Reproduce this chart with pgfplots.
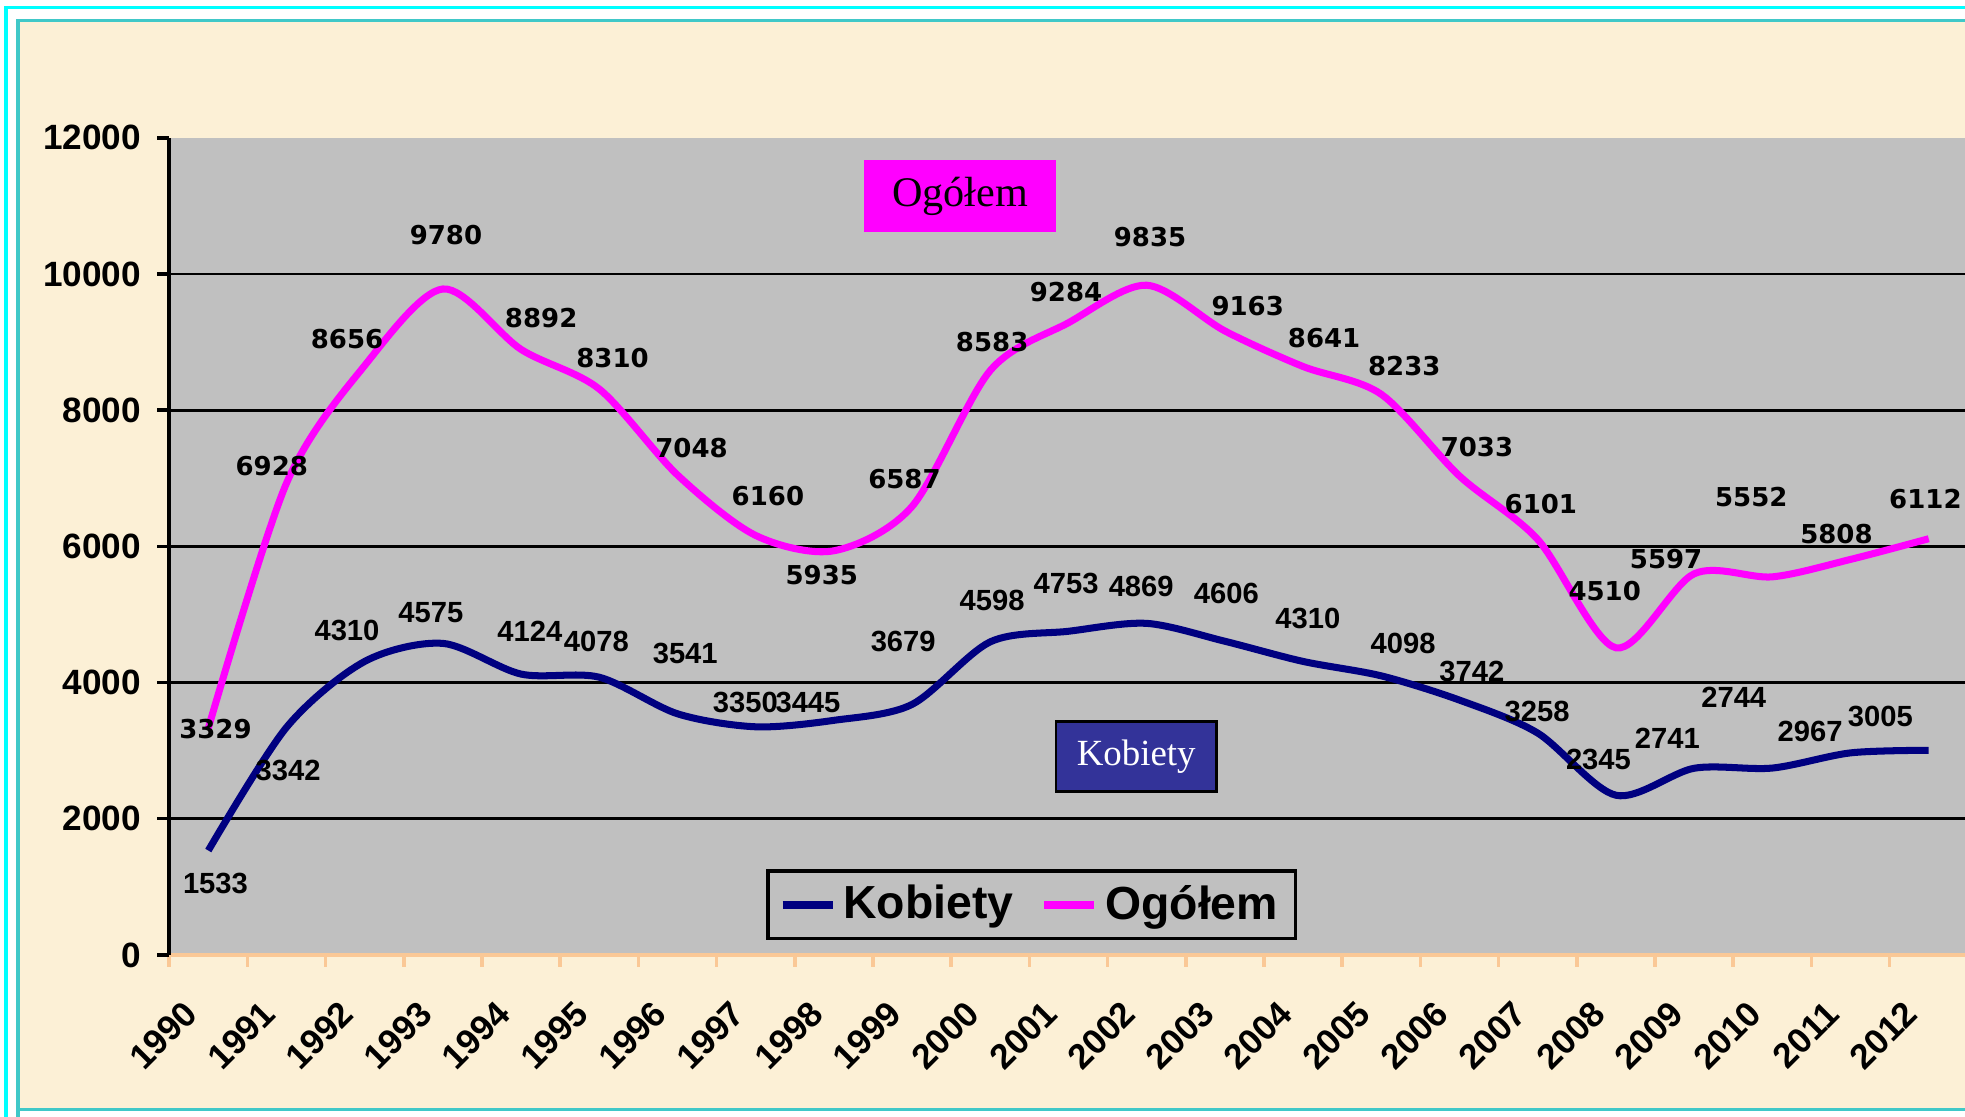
\documentclass[border=0pt]{standalone}
\usepackage{pgfplots}
\pgfplotsset{compat=1.18}
\usepackage{fontspec}
\setmainfont{Liberation Sans}
\newfontfamily\verd{DejaVu Sans}
\newfontfamily\tnr{Liberation Serif}
\definecolor{beige}{RGB}{252,240,214}
\definecolor{plotgrey}{RGB}{192,192,192}
\definecolor{mag}{RGB}{255,0,255}
\definecolor{navyb}{RGB}{0,0,128}
\definecolor{peach}{RGB}{250,200,150}
\definecolor{boxblue}{RGB}{51,51,153}
\definecolor{cyanb}{RGB}{0,255,255}
\definecolor{tealb}{RGB}{64,200,200}
\newcommand\olab{\verd\bfseries\fontsize{7.4}{8}\selectfont}
\newcommand\klab{\bfseries\fontsize{8.3}{9}\selectfont}
\begin{document}
\begin{tikzpicture}
% background and frame
\fill[white] (0,0) rectangle (19.65,11.166);
\fill[beige] (0.18,0.07) rectangle (19.8,10.96);
\draw[cyanb, line width=1pt] (0.06,-0.2) -- (0.06,11.09) -- (19.8,11.09);
\draw[tealb, line width=1pt] (0.18,-0.2) |- (19.8,10.96);
\draw[tealb, line width=1pt] (0.18,0.07) -- (19.8,0.07);
\begin{axis}[
  at={(1.692cm,1.617cm)}, anchor=south west, scale only axis,
  width=17.986cm, height=8.171cm,
  xmin=-0.5, xmax=22.5, ymin=0, ymax=12000,
  axis background/.style={fill=plotgrey},
  axis lines*=left, axis line style={-},
  x axis line style={draw=peach, line width=1.2pt},
  y axis line style={draw=black, line width=1pt},
  tick align=outside,
  xtick={0,...,22},
  xticklabels={1990,1991,1992,1993,1994,1995,1996,1997,1998,1999,2000,2001,2002,2003,2004,2005,2006,2007,2008,2009,2010,2011,2012},
  major x tick style={draw=none},
  minor xtick={-0.5,0.5,...,22.5},
  minor x tick style={draw=peach, line width=1pt},
  minor tick length=0.12cm,
  ytick={0,2000,...,12000},
  scaled y ticks=false,
  major tick length=0.12cm,
  major y tick style={draw=black, line width=1pt},
  /pgf/number format/assume math mode=true,
  /pgf/number format/set thousands separator={},
  yticklabel style={font=\bfseries\fontsize{10}{11}\selectfont, xshift=-0.04cm},
  xticklabel style={font=\bfseries\fontsize{10}{11}\selectfont, rotate=45, anchor=north east, inner sep=0pt, xshift=-0.405cm, yshift=-0.033cm},
  legend style={at={(0.332,0.018)}, anchor=south west, draw=black, line width=1pt, fill=plotgrey,
    font=\bfseries\fontsize{13.2}{14}\selectfont, legend columns=2,
    inner xsep=3pt, inner ysep=2pt,
    /tikz/every even column/.append style={column sep=0.2cm}},
  legend image code/.code={\draw[#1, line width=2.2pt] (0cm,0cm) -- (0.5cm,0cm);},
  clip=false,
]
\pgfplotsinvokeforeach{2000,4000,6000,8000,10000}{
  \draw[black, line width=0.8pt] (axis cs:-0.5,#1) -- (axis cs:22.5,#1);
}
\addplot[navyb, line width=2pt, smooth] coordinates {
(0,1533) (1,3342) (2,4310) (3,4575) (4,4124) (5,4078) (6,3541) (7,3350) (8,3445) (9,3679) (10,4598) (11,4753) (12,4869) (13,4606) (14,4310) (15,4098) (16,3742) (17,3258) (18,2345) (19,2741) (20,2744) (21,2967) (22,3005)};
\addlegendentry{Kobiety}
\addplot[mag, line width=2pt, smooth] coordinates {
(0,3329) (1,6928) (2,8656) (3,9780) (4,8892) (5,8310) (6,7048) (7,6160) (8,5935) (9,6587) (10,8583) (11,9284) (12,9835) (13,9163) (14,8641) (15,8233) (16,7033) (17,6101) (18,4510) (19,5597) (20,5552) (21,5808) (22,6112)};
\addlegendentry{Ogółem}
\end{axis}
\begin{scope}[x=0.012532cm, y=-0.012532cm, shift={(0,11.166cm)}]
% annotation boxes
\node[fill=mag, minimum width=1.917cm, minimum height=0.714cm, inner sep=0pt, font=\tnr\fontsize{12}{13}\selectfont] at (766.5,156.5) {Ogółem};
\node[fill=boxblue, draw=black, line width=0.8pt, minimum width=1.604cm, minimum height=0.702cm, inner sep=0pt, text=white, font=\tnr\fontsize{10.5}{11}\selectfont] at (907,604) {Kobiety};
% Ogółem labels
\begin{scope}[every node/.style={font=\olab, inner sep=0pt}]
\node at (172,582) {3329};
\node at (217,372) {6928};
\node at (277,271) {8656};
\node at (356,188) {9780};
\node at (432,254) {8892};
\node at (489,286) {8310};
\node at (552,358) {7048};
\node at (613,396) {6160};
\node at (656,459) {5935};
\node at (722,382) {6587};
\node at (792,273) {8583};
\node at (851,233) {9284};
\node at (918,189) {9835};
\node at (996,244) {9163};
\node at (1057,270) {8641};
\node at (1121,292) {8233};
\node at (1179,357) {7033};
\node at (1230,402) {6101};
\node at (1281,472) {4510};
\node at (1330,446) {5597};
\node at (1398,397) {5552};
\node at (1466,426) {5808};
\node at (1537,398) {6112};
\end{scope}
% Kobiety labels
\begin{scope}[every node/.style={font=\klab, inner sep=0pt}]
\node at (172,705) {1533};
\node at (230,615) {3342};
\node at (277,503) {4310};
\node at (344,489) {4575};
\node at (423,504) {4124};
\node at (476,512) {4078};
\node at (547,522) {3541};
\node at (595,561) {3350};
\node at (645,561) {3445};
\node at (721,512) {3679};
\node at (792,479) {4598};
\node at (851,466) {4753};
\node at (911,468) {4869};
\node at (979,474) {4606};
\node at (1044,494) {4310};
\node at (1120,514) {4098};
\node at (1175,536) {3742};
\node at (1227,568) {3258};
\node at (1276,606) {2345};
\node at (1331,589) {2741};
\node at (1384,557) {2744};
\node at (1445,584) {2967};
\node at (1501,572) {3005};
\end{scope}
\end{scope}
\pgfresetboundingbox
\useasboundingbox (0,0) rectangle (19.65,11.166);
\end{tikzpicture}
\end{document}
